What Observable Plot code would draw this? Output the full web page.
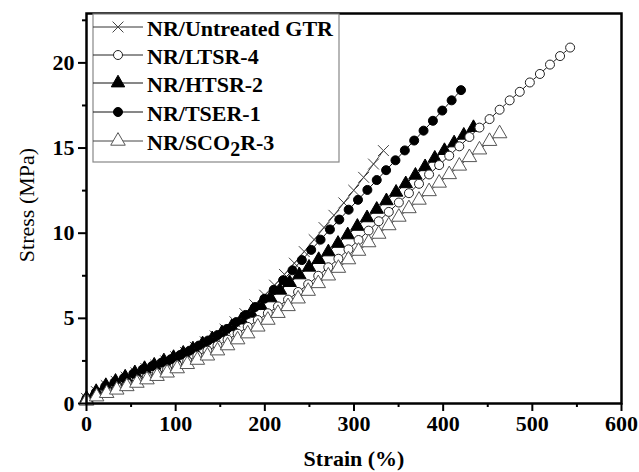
<!DOCTYPE html>
<html><head><meta charset="utf-8">
<script src="https://cdn.jsdelivr.net/npm/d3@7"></script>
<script src="https://cdn.jsdelivr.net/npm/@observablehq/plot@0.6"></script>
<style>
body{margin:0;background:#fff}
#chart{width:639px;height:472px}
</style></head><body><div id="chart"></div>
<script>
// ---- data ----
const seriesNames = ["NR/Untreated GTR", "NR/LTSR-4", "NR/HTSR-2", "NR/TSER-1", "NR/SCO2R-3"];

const gtrStrain = [0, 11.1, 22.2, 33.3, 44.4, 55.5, 66.6, 77.7, 88.8, 99.9, 111, 122.1, 133.2, 144.3, 155.4, 166.5, 177.6, 188.7, 199.8, 210.9, 222, 233.1, 244.2, 255.3, 266.4, 277.5, 288.6, 299.7, 310.8, 321.9, 333];
const gtrStress = [0.3, 0.7, 1.05, 1.3, 1.55, 1.8, 2.05, 2.25, 2.5, 2.75, 3.0, 3.3, 3.62, 3.97, 4.36, 4.8, 5.28, 5.8, 6.36, 6.95, 7.58, 8.24, 8.92, 9.62, 10.33, 11.05, 11.78, 12.52, 13.28, 14.06, 14.85];

const ltsrStrain = [0, 11.3, 22.6, 33.9, 45.2, 56.5, 67.8, 79.1, 90.4, 101.7, 113, 124.3, 135.6, 146.9, 158.2, 169.5, 180.8, 192.1, 203.4, 214.7, 226, 237.3, 248.6, 259.9, 271.2, 282.5, 293.8, 305.1, 316.4, 327.7, 339, 350.3, 361.6, 372.9, 384.2, 395.5, 406.8, 418.1, 429.4, 440.7, 452, 463.3, 474.6, 485.9, 497.2, 508.5, 519.8, 531.1, 542.4];
const ltsrStress = [0.25, 0.55, 0.8, 1.0, 1.2, 1.4, 1.58, 1.78, 2.0, 2.25, 2.5, 2.8, 3.1, 3.4, 3.75, 4.1, 4.5, 4.9, 5.3, 5.7, 6.1, 6.55, 7.0, 7.5, 8.0, 8.5, 9.05, 9.6, 10.15, 10.7, 11.25, 11.8, 12.35, 12.9, 13.45, 14.0, 14.55, 15.1, 15.65, 16.2, 16.7, 17.25, 17.8, 18.3, 18.85, 19.35, 19.9, 20.4, 20.9];

const htsrStrain = [0, 10.85, 21.7, 32.55, 43.4, 54.25, 65.1, 75.95, 86.8, 97.65, 108.5, 119.35, 130.2, 141.05, 151.9, 162.75, 173.6, 184.45, 195.3, 206.15, 217, 227.85, 238.7, 249.55, 260.4, 271.25, 282.1, 292.95, 303.8, 314.65, 325.5, 336.35, 347.2, 358.05, 368.9, 379.75, 390.6, 401.45, 412.3, 423.15, 434];
const htsrStress = [0.3, 0.7, 1.05, 1.3, 1.55, 1.8, 2.05, 2.25, 2.5, 2.7, 2.95, 3.2, 3.5, 3.8, 4.15, 4.5, 4.9, 5.3, 5.75, 6.2, 6.65, 7.1, 7.55, 8.0, 8.45, 8.9, 9.4, 9.9, 10.4, 10.9, 11.4, 11.9, 12.4, 12.9, 13.4, 13.9, 14.4, 14.85, 15.3, 15.75, 16.2];

const tserStrain = [0, 10.5, 21, 31.5, 42, 52.5, 63, 73.5, 84, 94.5, 105, 115.5, 126, 136.5, 147, 157.5, 168, 178.5, 189, 199.5, 210, 220.5, 231, 241.5, 252, 262.5, 273, 283.5, 294, 304.5, 315, 325.5, 336, 346.5, 357, 367.5, 378, 388.5, 399, 409.5, 420];
const tserStress = [0.3, 0.65, 1.0, 1.25, 1.5, 1.75, 2.0, 2.2, 2.4, 2.6, 2.85, 3.1, 3.4, 3.7, 4.02, 4.38, 4.78, 5.2, 5.66, 6.15, 6.68, 7.24, 7.82, 8.42, 9.02, 9.62, 10.22, 10.8, 11.38, 11.96, 12.54, 13.12, 13.7, 14.28, 14.86, 15.44, 16.02, 16.6, 17.2, 17.8, 18.4];

const sco2Strain = [0, 11.3, 22.6, 33.9, 45.2, 56.5, 67.8, 79.1, 90.4, 101.7, 113, 124.3, 135.6, 146.9, 158.2, 169.5, 180.8, 192.1, 203.4, 214.7, 226, 237.3, 248.6, 259.9, 271.2, 282.5, 293.8, 305.1, 316.4, 327.7, 339, 350.3, 361.6, 372.9, 384.2, 395.5, 406.8, 418.1, 429.4, 440.7, 452, 463.3];
const sco2Stress = [0.15, 0.4, 0.6, 0.8, 1.0, 1.2, 1.4, 1.6, 1.8, 2.05, 2.3, 2.55, 2.8, 3.1, 3.4, 3.75, 4.1, 4.5, 4.9, 5.3, 5.7, 6.15, 6.6, 7.05, 7.5, 7.95, 8.45, 8.95, 9.45, 9.95, 10.45, 10.95, 11.45, 11.95, 12.45, 12.95, 13.45, 13.95, 14.45, 14.9, 15.4, 15.85];

const xMajorTicks = [0, 100, 200, 300, 400, 500, 600];
const xMinorTicks = [50, 150, 250, 350, 450, 550];
const yMajorTicks = [0, 5, 10, 15, 20];
const yMinorTicks = [2.5, 7.5, 12.5, 17.5, 22.5];

// ---- build tables ----
const mk = (xs, ys, name) => xs.map((x, i) => ({strain: x, stress: ys[i], series: name}));
const gtr = mk(gtrStrain, gtrStress, seriesNames[0]);
const ltsr = mk(ltsrStrain, ltsrStress, seriesNames[1]);
const htsr = mk(htsrStrain, htsrStress, seriesNames[2]);
const tser = mk(tserStrain, tserStress, seriesNames[3]);
const sco2 = mk(sco2Strain, sco2Stress, seriesNames[4]);

const SERIF = "Liberation Serif, Times New Roman, Times, serif";

const styles = {
  gtr:  {symbol: "times", fill: "none", stroke: "#444", r: 5, line: "#333"},
  ltsr: {symbol: "circle", fill: "white", stroke: "#222", r: 4.5, line: "#222"},
  htsr: {symbol: "triangle", fill: "black", stroke: "black", r: 5, line: "#111"},
  tser: {symbol: "circle", fill: "black", stroke: "black", r: 4.5, line: "#111"},
  sco2: {symbol: "triangle", fill: "white", stroke: "#555", r: 5.4, line: "#444"}
};

const seriesMarks = (data, s) => [
  Plot.line(data, {x: "strain", y: "stress", stroke: s.line, strokeWidth: 1, curve: "catmull-rom"}),
  Plot.dot(data, {x: "strain", y: "stress", symbol: () => s.symbol, r: s.r, fill: s.fill, stroke: s.stroke, strokeWidth: 1})
];

const W = 639, H = 472;
const plot = Plot.plot({
  width: W, height: H,
  marginLeft: 86, marginRight: 18, marginTop: 13, marginBottom: 69,
  style: {background: "white"},
  x: {domain: [0, 600]},
  y: {domain: [0, 22.9]},
  marks: [
    ...seriesMarks(gtr, styles.gtr),
    ...seriesMarks(htsr, styles.htsr),
    ...seriesMarks(ltsr, styles.ltsr),
    ...seriesMarks(tser, styles.tser),
    ...seriesMarks(sco2, styles.sco2),
    Plot.axisX(xMajorTicks, {tickSize: 8, tickPadding: 4, strokeWidth: 2, fontSize: 22, fontWeight: "bold", fontFamily: SERIF, fill: "black", label: null, tickFormat: d => String(d)}),
    Plot.axisX(xMinorTicks, {tickSize: 4, strokeWidth: 2, label: null, tickFormat: () => ""}),
    Plot.axisY(yMajorTicks, {tickSize: 8, tickPadding: 4, strokeWidth: 2, fontSize: 22, fontWeight: "bold", fontFamily: SERIF, fill: "black", label: null, tickFormat: d => String(d)}),
    Plot.axisY(yMinorTicks, {tickSize: 4, strokeWidth: 2, label: null, tickFormat: () => ""}),
    Plot.frame({stroke: "black", strokeWidth: 2.5})
  ]
});
document.getElementById("chart").appendChild(plot);

// ---- axis titles and legend ----
const svg = d3.select(plot);
svg.append("text").attr("x", 354).attr("y", 458).attr("text-anchor", "middle")
  .attr("dominant-baseline", "central").attr("font-size", 22).attr("font-weight", "bold").attr("fill", "black")
  .text("Strain (%)");
svg.append("text").attr("transform", "translate(26,205) rotate(-90)").attr("text-anchor", "middle")
  .attr("dominant-baseline", "central").attr("font-size", 22).attr("font-weight", "normal").attr("fill", "black")
  .text("Stress (MPa)");

const lg = svg.append("g");
lg.append("rect").attr("x", 93).attr("y", 14).attr("width", 246).attr("height", 148)
  .attr("fill", "white").attr("stroke", "#888").attr("stroke-width", 1.2);
const legendRows = [
  {name: seriesNames[0], s: styles.gtr, y: 27},
  {name: seriesNames[1], s: styles.ltsr, y: 55},
  {name: seriesNames[2], s: styles.htsr, y: 83},
  {name: seriesNames[3], s: styles.tser, y: 112},
  {name: seriesNames[4], s: styles.sco2, y: 141}
];
const symMap = {times: d3.symbolTimes, circle: d3.symbolCircle, triangle: d3.symbolTriangle};
legendRows.forEach(row => {
  lg.append("line").attr("x1", 93).attr("x2", 143).attr("y1", row.y).attr("y2", row.y)
    .attr("stroke", row.s.line).attr("stroke-width", 1);
  const area = Math.PI * row.s.r * row.s.r;
  lg.append("path").attr("d", d3.symbol(symMap[row.s.symbol], area)())
    .attr("transform", `translate(118,${row.y})`)
    .attr("fill", row.s.fill).attr("stroke", row.s.stroke).attr("stroke-width", 1);
  const t = lg.append("text").attr("x", 147).attr("y", row.y + 1).attr("text-anchor", "start")
    .attr("dominant-baseline", "central")
    .attr("font-size", 22).attr("font-weight", "bold").attr("fill", "black");
  if (row.name === "NR/SCO2R-3") {
    t.append("tspan").text("NR/SCO");
    t.append("tspan").attr("dy", 7).attr("font-size", 20).text("2");
    t.append("tspan").attr("dy", -7).text("R-3");
  } else {
    t.text(row.name);
  }
});
// force the serif face on every text element
svg.selectAll("text").attr("font-family", SERIF).style("font-family", SERIF);
svg.style("font-family", SERIF);
</script></body></html>
